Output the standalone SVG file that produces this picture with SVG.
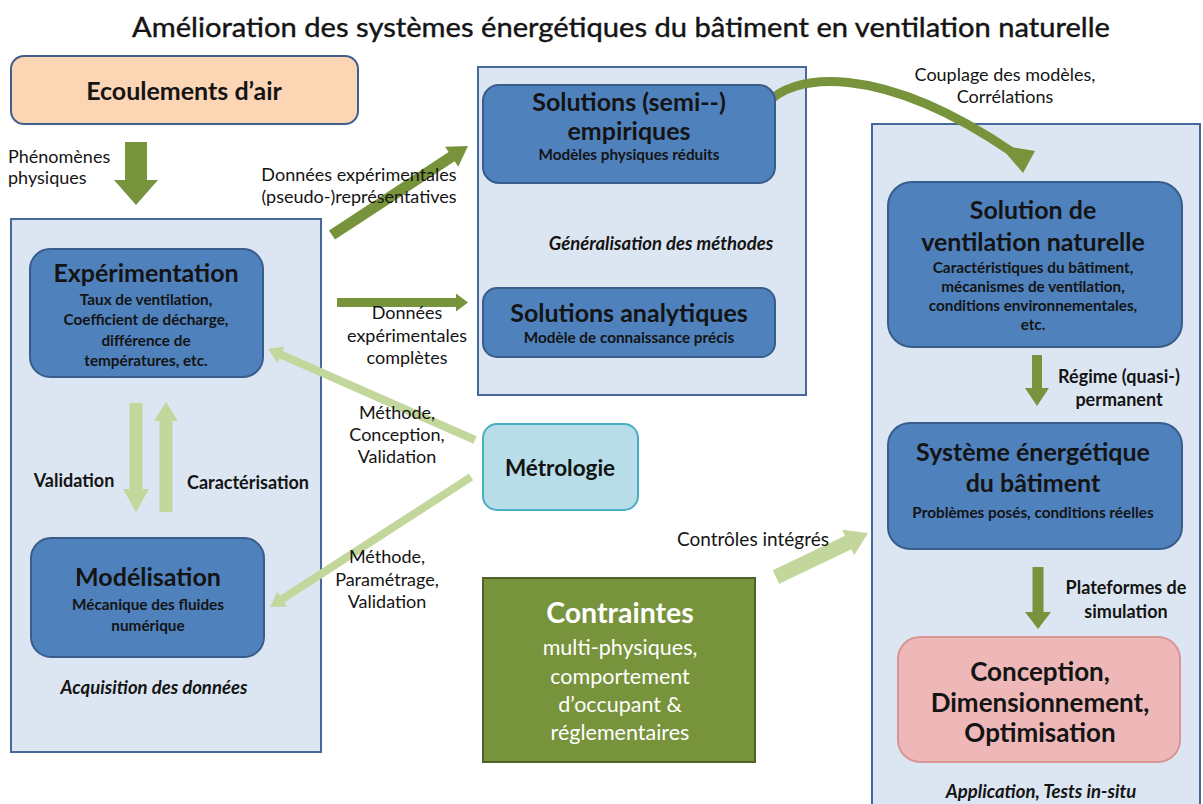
<svg xmlns="http://www.w3.org/2000/svg" width="1203" height="804" viewBox="0 0 1203 804">
<defs>
<style>
text{font-family:Lato,"Liberation Sans",sans-serif;fill:#141414;text-anchor:middle}
.t{font-size:27px;stroke:#141414;stroke-width:0.4}
.h{font-size:25px;font-weight:bold}
.s{font-size:15.3px;font-weight:bold}
.l{font-size:18px}
.lb{font-size:18px;font-weight:bold}
.i{font-size:18.5px;font-style:italic;font-weight:bold}
.cont{fill:#dce6f2;stroke:#46689a;stroke-width:2}
.blue{fill:#4f81bd;stroke:#385d8a;stroke-width:2}
.dg{fill:#77933c}
.lg{fill:#c3d69b}
</style>
</defs>
<rect width="1203" height="804" fill="#ffffff"/>
<text class="t" x="621" y="37" textLength="978" lengthAdjust="spacingAndGlyphs">Amélioration des systèmes énergétiques du bâtiment en ventilation naturelle</text>

<g id="containers">
<rect id="box-acquisition" class="cont" x="11" y="219" width="310" height="533"/>
<rect id="box-methodes" class="cont" x="478" y="67" width="328" height="328"/>
<rect id="box-application" class="cont" x="872" y="124" width="328" height="690"/>
</g>

<g id="connectors">
<polygon class="dg" transform="translate(136,142)" points="-11,0 11,0 11,38 22,38 0,63 -22,38 -11,38"/>
<polygon class="dg" transform="translate(332,235) rotate(-33.2)" points="0,-5.5 143,-5.5 143,-12 162.5,0 143,12 143,5.5 0,5.5"/>
<polygon class="dg" transform="translate(337,302.5)" points="0,-4.5 119,-4.5 119,-9 131,0 119,9 119,4.5 0,4.5"/>
<polygon class="lg" transform="translate(475,440) rotate(-156.27)" points="0,-4 212,-4 212,-9 226,0 212,9 212,4 0,4"/>
<polygon class="lg" transform="translate(471,477) rotate(147.1)" points="0,-4 225,-4 225,-9 239,0 225,9 225,4 0,4"/>
<polygon class="lg" transform="translate(136,403)" points="-6.5,0 6.5,0 6.5,86 13,86 0,109 -13,86 -6.5,86"/>
<polygon class="lg" transform="translate(166,512)" points="-6.5,0 6.5,0 6.5,-91 12,-91 0,-110 -12,-91 -6.5,-91"/>
<polygon class="lg" transform="translate(776,577) rotate(-25.56)" points="0,-7.5 80,-7.5 80,-14 102,0 80,14 80,7.5 0,7.5"/>
<path d="M765,106 C790,72 880,62 1012,152" fill="none" stroke="#77933c" stroke-width="9" stroke-linecap="round"/>
<polygon class="dg" points="999,145 1035,151 1023,173"/>
<polygon class="dg" transform="translate(1037,355)" points="-5,0 5,0 5,33 12,33 0,51 -12,33 -5,33"/>
<polygon class="dg" transform="translate(1038,567)" points="-5.5,0 5.5,0 5.5,45 13,45 0,62 -13,45 -5.5,45"/>
</g>

<g id="labels">
<text class="l" x="8" y="163" style="text-anchor:start">Phénomènes</text>
<text class="l" x="8" y="184" style="text-anchor:start">physiques</text>
<text class="l" x="359" y="181">Données expérimentales</text>
<text class="l" x="359" y="203">(pseudo-)représentatives</text>
<text class="l" x="407" y="319">Données</text>
<text class="l" x="407" y="342">expérimentales</text>
<text class="l" x="407" y="364">complètes</text>
<text class="l" x="397" y="419">Méthode,</text>
<text class="l" x="397" y="441">Conception,</text>
<text class="l" x="397" y="463">Validation</text>
<text class="l" x="387" y="563">Méthode,</text>
<text class="l" x="387" y="586">Paramétrage,</text>
<text class="l" x="387" y="608">Validation</text>
<text class="lb" x="74" y="487">Validation</text>
<text class="lb" x="248" y="489">Caractérisation</text>
<text class="l" x="753" y="546" style="font-size:19px">Contrôles intégrés</text>
<text class="l" x="1005" y="81">Couplage des modèles,</text>
<text class="l" x="1005" y="103">Corrélations</text>
<text class="lb" x="1119" y="383">Régime (quasi-)</text>
<text class="lb" x="1119" y="406">permanent</text>
<text class="lb" x="1126" y="594">Plateformes de</text>
<text class="lb" x="1126" y="618">simulation</text>
<text class="i" x="154" y="694">Acquisition des données</text>
<text class="i" x="661" y="250">Généralisation des méthodes</text>
<text class="i" x="1041" y="798">Application, Tests in-situ</text>
</g>

<g id="ecoulements">
<rect x="11" y="56" width="347" height="68" rx="13" fill="#fcd5b5" stroke="#3f5f8c" stroke-width="2"/>
<text class="h" x="184" y="100">Ecoulements d’air</text>
</g>

<g id="experimentation">
<rect class="blue" x="30" y="249" width="233" height="128" rx="20"/>
<text class="h" x="146" y="282">Expérimentation</text>
<text class="s" x="146" y="305">Taux de ventilation,</text>
<text class="s" x="146" y="325">Coefficient de décharge,</text>
<text class="s" x="146" y="346">différence de</text>
<text class="s" x="146" y="366">températures, etc.</text>
</g>

<g id="modelisation">
<rect class="blue" x="31" y="538" width="233" height="119" rx="20"/>
<text class="h" x="148" y="586">Modélisation</text>
<text class="s" x="148" y="610">Mécanique des fluides</text>
<text class="s" x="148" y="631">numérique</text>
</g>

<g id="empiriques">
<rect class="blue" x="483" y="85" width="292" height="98" rx="16"/>
<text class="h" x="629" y="111">Solutions (semi--)</text>
<text class="h" x="629" y="140">empiriques</text>
<text class="s" x="629" y="160">Modèles physiques réduits</text>
</g>

<g id="analytiques">
<rect class="blue" x="483" y="288" width="292" height="69" rx="14"/>
<text class="h" x="629" y="322">Solutions analytiques</text>
<text class="s" x="629" y="343">Modèle de connaissance précis</text>
</g>

<g id="metrologie">
<rect x="483" y="424" width="155" height="86" rx="14" fill="#b7dee8" stroke="#4bacc6" stroke-width="2"/>
<text class="h" x="560" y="476" style="font-size:22.5px">Métrologie</text>
</g>

<g id="contraintes">
<rect x="483" y="578" width="272" height="184" fill="#77933c" stroke="#4f6228" stroke-width="2"/>
<text x="620" y="623" style="fill:#fff;font-size:28.5px;font-weight:bold">Contraintes</text>
<text x="620" y="655" style="fill:#fff;font-size:21.5px">multi-physiques,</text>
<text x="620" y="684" style="fill:#fff;font-size:21.5px">comportement</text>
<text x="620" y="712" style="fill:#fff;font-size:21.5px">d’occupant &amp;</text>
<text x="620" y="740" style="fill:#fff;font-size:21.5px">réglementaires</text>
</g>

<g id="ventilation">
<rect class="blue" x="888" y="182" width="294" height="165" rx="24"/>
<text class="h" x="1033" y="219">Solution de</text>
<text class="h" x="1033" y="251">ventilation naturelle</text>
<text class="s" x="1033" y="273">Caractéristiques du bâtiment,</text>
<text class="s" x="1033" y="292">mécanismes de ventilation,</text>
<text class="s" x="1033" y="311">conditions environnementales,</text>
<text class="s" x="1033" y="330">etc.</text>
</g>

<g id="systeme">
<rect class="blue" x="888" y="423" width="294" height="126" rx="22"/>
<text class="h" x="1033" y="461">Système énergétique</text>
<text class="h" x="1033" y="492">du bâtiment</text>
<text class="s" x="1033" y="518">Problèmes posés, conditions réelles</text>
</g>

<g id="conception">
<rect x="898" y="637" width="282" height="125" rx="22" fill="#efb8b8" stroke="#d99594" stroke-width="2"/>
<text class="h" x="1040" y="681" style="font-size:26px">Conception,</text>
<text class="h" x="1040" y="712" style="font-size:26px">Dimensionnement,</text>
<text class="h" x="1040" y="742" style="font-size:26px">Optimisation</text>
</g>
</svg>
